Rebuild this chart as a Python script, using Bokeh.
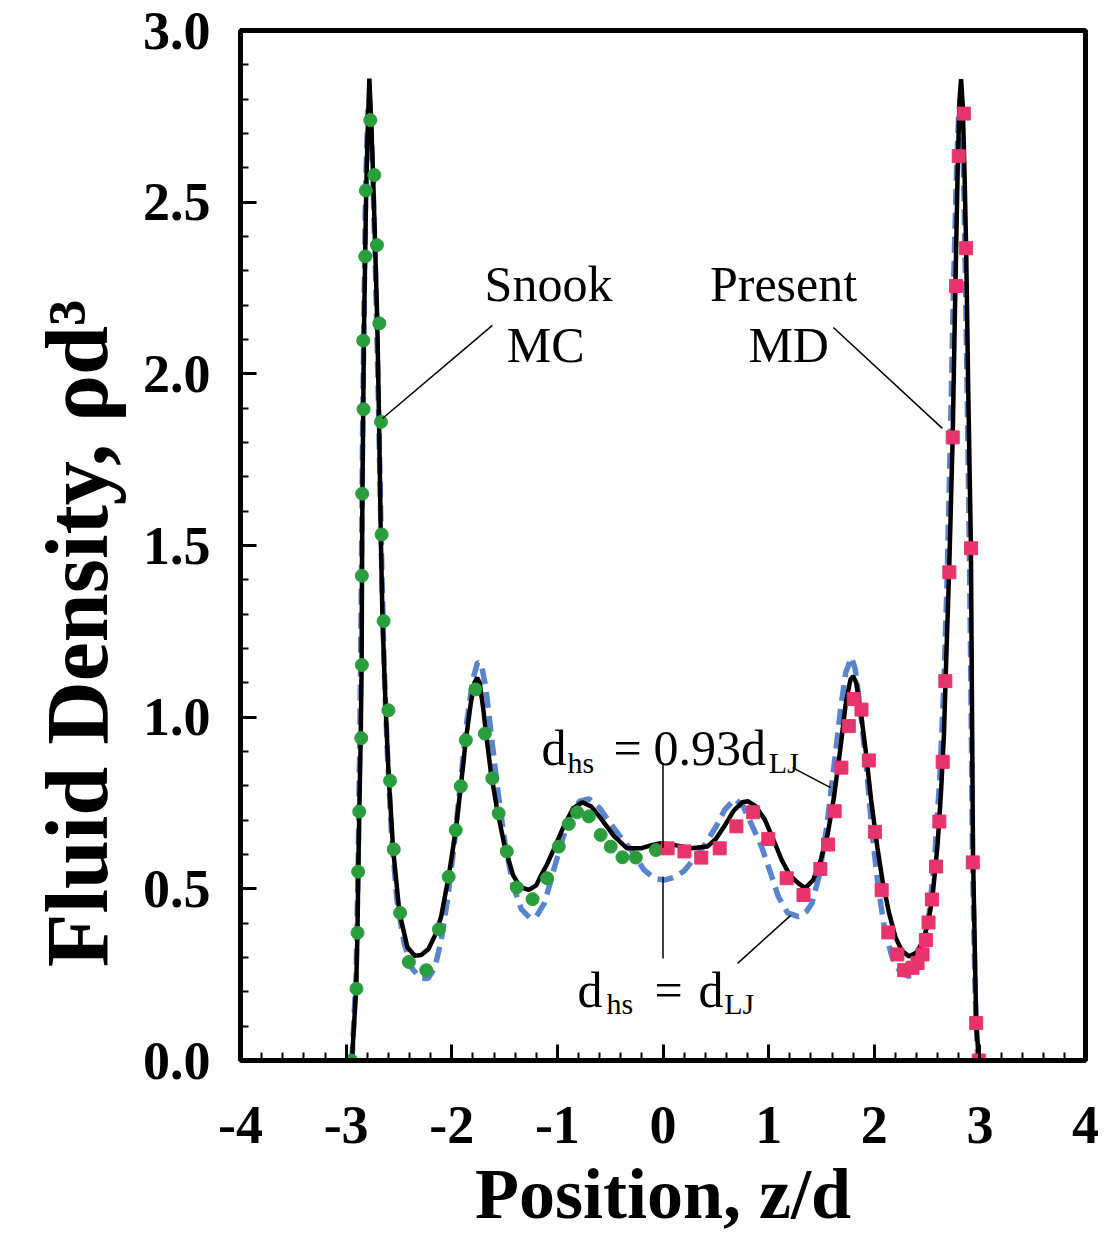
import math
from bokeh.plotting import figure
from bokeh.models import Range1d, FixedTicker, Label
from bokeh.embed import file_html
from bokeh.resources import INLINE

# ---------------- data ----------------
# d_hs = 0.93 d_LJ (solid black)
solid_x = [-2.945, -2.905, -2.893, -2.885, -2.875, -2.862, -2.853, -2.850, -2.846, -2.838,
           -2.832, -2.820, -2.810, -2.795, -2.780, -2.765, -2.745, -2.725, -2.705, -2.688,
           -2.672, -2.655, -2.625, -2.595, -2.555, -2.495, -2.420, -2.350, -2.290, -2.220,
           -2.150, -2.100, -2.030, -1.962, -1.914, -1.867, -1.820, -1.785, -1.760, -1.735,
           -1.700, -1.680, -1.630, -1.570, -1.500, -1.420, -1.350, -1.270, -1.200, -1.160,
           -1.100, -1.035, -0.940, -0.850, -0.765, -0.680, -0.590, -0.460, -0.340, -0.210,
           -0.100, -0.020, 0.100, 0.270, 0.420, 0.500, 0.580, 0.670, 0.750, 0.806,
           0.880, 0.965, 1.050, 1.124, 1.200, 1.283, 1.346, 1.420, 1.490, 1.560,
           1.620, 1.680, 1.730, 1.775, 1.800, 1.830, 1.870, 1.920, 1.970, 2.030,
           2.080, 2.140, 2.200, 2.260, 2.330, 2.400, 2.457, 2.510, 2.552, 2.600,
           2.632, 2.660, 2.679, 2.711, 2.743, 2.765, 2.790, 2.808, 2.822, 2.838,
           2.855, 2.870, 2.890, 2.915, 2.935, 2.965, 2.990]
solid_y = [0.000, 0.210, 0.370, 0.550, 0.730, 0.940, 1.150, 1.410, 1.650, 1.900,
           2.100, 2.340, 2.530, 2.720, 2.860, 2.750, 2.580, 2.370, 2.150, 1.860,
           1.530, 1.280, 1.020, 0.815, 0.615, 0.430, 0.330, 0.305, 0.307, 0.325,
           0.370, 0.420, 0.535, 0.671, 0.799, 0.933, 1.040, 1.100, 1.115, 1.100,
           1.020, 0.965, 0.840, 0.730, 0.625, 0.540, 0.505, 0.497, 0.510, 0.536,
           0.570, 0.614, 0.682, 0.735, 0.752, 0.740, 0.706, 0.652, 0.618, 0.618,
           0.628, 0.633, 0.628, 0.618, 0.623, 0.645, 0.682, 0.728, 0.752, 0.755,
           0.740, 0.701, 0.640, 0.584, 0.540, 0.516, 0.502, 0.525, 0.580, 0.660,
           0.770, 0.910, 1.040, 1.110, 1.119, 1.100, 1.020, 0.900, 0.760, 0.620,
           0.520, 0.430, 0.360, 0.320, 0.303, 0.315, 0.345, 0.400, 0.478, 0.630,
           0.781, 0.950, 1.144, 1.446, 1.821, 2.200, 2.600, 2.800, 2.858, 2.780,
           2.580, 2.366, 1.950, 1.500, 0.600, 0.110, 0.000]

# d_hs = d_LJ (blue dashed)
dash_x = [-2.945, -2.905, -2.885, -2.868, -2.855, -2.845, -2.830, -2.815, -2.795, -2.780,
          -2.765, -2.745, -2.722, -2.700, -2.680, -2.660, -2.640, -2.610, -2.570, -2.520,
          -2.450, -2.380, -2.300, -2.225, -2.160, -2.100, -2.040, -1.980, -1.920, -1.860,
          -1.800, -1.755, -1.720, -1.680, -1.630, -1.570, -1.500, -1.420, -1.340, -1.260,
          -1.200, -1.120, -1.035, -0.950, -0.880, -0.790, -0.700, -0.600, -0.500, -0.400,
          -0.300, -0.180, -0.080, 0.020, 0.120, 0.200, 0.300, 0.400, 0.500, 0.584,
          0.680, 0.760, 0.850, 0.933, 1.020, 1.092, 1.180, 1.283, 1.360, 1.410,
          1.480, 1.550, 1.620, 1.680, 1.730, 1.784, 1.820, 1.870, 1.930, 1.981,
          2.040, 2.100, 2.170, 2.250, 2.330, 2.400, 2.460, 2.520, 2.570, 2.620,
          2.660, 2.690, 2.720, 2.750, 2.780, 2.800, 2.815, 2.830, 2.848, 2.865,
          2.882, 2.900, 2.915, 2.930, 2.955, 2.980]
dash_y = [0.000, 0.250, 0.600, 1.000, 1.400, 1.800, 2.200, 2.550, 2.760, 2.800,
          2.740, 2.550, 2.300, 2.000, 1.700, 1.400, 1.150, 0.900, 0.660, 0.470,
          0.340, 0.270, 0.240, 0.239, 0.270, 0.350, 0.470, 0.620, 0.800, 0.980,
          1.110, 1.160, 1.155, 1.090, 0.960, 0.800, 0.640, 0.510, 0.440, 0.415,
          0.419, 0.460, 0.555, 0.645, 0.710, 0.755, 0.762, 0.735, 0.692, 0.650,
          0.613, 0.555, 0.530, 0.526, 0.535, 0.552, 0.590, 0.630, 0.680, 0.730,
          0.762, 0.740, 0.680, 0.623, 0.545, 0.477, 0.430, 0.419, 0.435, 0.458,
          0.540, 0.680, 0.860, 1.020, 1.130, 1.174, 1.140, 1.020, 0.840, 0.660,
          0.500, 0.380, 0.300, 0.255, 0.245, 0.265, 0.320, 0.430, 0.580, 0.820,
          1.100, 1.400, 1.800, 2.250, 2.600, 2.760, 2.800, 2.760, 2.550, 2.250,
          1.900, 1.500, 1.100, 0.600, 0.200, 0.000]

# Snook MC (green circles)
mc_x = [-2.952, -2.902, -2.892, -2.886, -2.876, -2.857, -2.851, -2.851, -2.848, -2.835,
        -2.838, -2.819, -2.813, -2.771, -2.733, -2.708, -2.686, -2.670, -2.664, -2.645,
        -2.600, -2.584, -2.549, -2.489, -2.406, -2.241, -2.121, -2.029, -1.962, -1.914,
        -1.867, -1.775, -1.686, -1.616, -1.556, -1.479, -1.384, -1.235, -1.098, -0.987,
        -0.892, -0.813, -0.702, -0.590, -0.495, -0.384, -0.257, -0.067]
mc_y = [0.000, 0.209, 0.372, 0.550, 0.725, 0.939, 1.152, 1.412, 1.651, 1.897,
        2.097, 2.342, 2.534, 2.739, 2.579, 2.375, 2.147, 1.860, 1.532, 1.280,
        1.020, 0.815, 0.615, 0.430, 0.287, 0.263, 0.382, 0.535, 0.671, 0.799,
        0.933, 1.081, 0.952, 0.822, 0.720, 0.609, 0.504, 0.470, 0.531, 0.623,
        0.689, 0.723, 0.711, 0.657, 0.623, 0.592, 0.591, 0.613]

# Present MD (pink squares)
md_x = [0.044, 0.203, 0.362, 0.537, 0.695, 0.854, 0.997, 1.171, 1.330, 1.490,
        1.562, 1.625, 1.689, 1.759, 1.806, 1.879, 1.949, 2.006, 2.070, 2.133,
        2.219, 2.283, 2.362, 2.410, 2.457, 2.489, 2.514, 2.546, 2.585, 2.616,
        2.648, 2.673, 2.711, 2.743, 2.775, 2.800, 2.848, 2.870, 2.917, 2.933,
        2.965, 2.990]
md_y = [0.618, 0.609, 0.591, 0.618, 0.682, 0.723, 0.645, 0.531, 0.482, 0.558,
        0.629, 0.726, 0.853, 0.974, 1.053, 1.022, 0.874, 0.666, 0.496, 0.373,
        0.309, 0.263, 0.270, 0.284, 0.309, 0.351, 0.402, 0.469, 0.565, 0.696,
        0.870, 1.105, 1.422, 1.815, 2.256, 2.634, 2.758, 2.366, 1.492, 0.577,
        0.109, 0.000]

x_ticks = [-4, -3, -2, -1, 0, 1, 2, 3, 4]
x_tick_labels = ["-4", "-3", "-2", "-1", "0", "1", "2", "3", "4"]
y_ticks = [0.0, 0.5, 1.0, 1.5, 2.0, 2.5, 3.0]
y_tick_labels = ["0.0", "0.5", "1.0", "1.5", "2.0", "2.5", "3.0"]

x_title = "Position, z/d"
y_title = "Fluid Density, \u03c1d\u00b3"

# ---------------- figure ----------------
SERIF = "Liberation Serif"

p = figure(frame_width=845, frame_height=1030,
           x_range=Range1d(-4, 4), y_range=Range1d(0, 3),
           output_backend="svg", toolbar_location=None,
           min_border_left=240, min_border_right=20,
           min_border_top=30, min_border_bottom=177,
           background_fill_color="white", border_fill_color="white")

p.grid.visible = False
p.outline_line_color = "black"
p.outline_line_width = 5
p.outline_line_alpha = 1.0

x_minor = [round(-4 + 0.2 * i, 2) for i in range(41)]
y_minor = [round(0.1 * i, 2) for i in range(31)]
p.xaxis.ticker = FixedTicker(ticks=x_ticks, minor_ticks=x_minor)
p.yaxis.ticker = FixedTicker(ticks=y_ticks, minor_ticks=y_minor)
p.xaxis.major_label_overrides = {t: s for t, s in zip(x_ticks, x_tick_labels)}
p.yaxis.major_label_overrides = {t: s for t, s in zip(y_ticks, y_tick_labels)}

for ax in (p.xaxis[0], p.yaxis[0]):
    ax.axis_line_width = 5
    ax.axis_line_color = "black"
    ax.major_tick_in = 16
    ax.major_tick_out = 0
    ax.minor_tick_in = 8
    ax.minor_tick_out = 0
    ax.major_tick_line_width = 3
    ax.minor_tick_line_width = 2
    ax.major_tick_line_color = "black"
    ax.minor_tick_line_color = "black"
    ax.major_label_text_font = SERIF
    ax.major_label_text_font_style = "bold"
    ax.major_label_text_font_size = "54px"
    ax.major_label_text_color = "black"
    ax.axis_label_text_font = SERIF
    ax.axis_label_text_font_style = "bold"
    ax.axis_label_text_color = "black"
p.xaxis.major_label_standoff = 46
p.yaxis.major_label_standoff = 30

p.xaxis.axis_label = x_title
p.xaxis.axis_label_text_font_size = "72px"
p.xaxis.axis_label_standoff = 8
# trailing no-break spaces move the rotated title down toward where the reference has it
p.yaxis.axis_label = y_title + "\u00a0" * 8
p.yaxis.axis_label_text_font_size = "88px"
p.yaxis.axis_label_standoff = 14

# curves
p.line(dash_x, dash_y, line_color="#5a84cc", line_width=5.5, line_dash="16 8")
p.line(solid_x, solid_y, line_color="black", line_width=4.5)
p.scatter(mc_x, mc_y, marker="circle", size=13, fill_color="#2a9d3c", line_color="#2a9d3c")
p.scatter(md_x, md_y, marker="square", size=13, fill_color="#e8346c", line_color="#e8346c")

# leader lines
p.line([-1.615, -2.656], [2.141, 1.870], line_color="black", line_width=1.5)
p.line([1.613, 2.645], [2.135, 1.841], line_color="black", line_width=1.5)
p.line([0, 0], [0.865, 0.620], line_color="black", line_width=1.5)
p.line([0, 0], [0.535, 0.297], line_color="black", line_width=1.5)
p.line([1.226, 1.586], [0.853, 0.795], line_color="black", line_width=1.5)
p.line([0.706, 1.207], [0.283, 0.422], line_color="black", line_width=1.5)


def lab(x, y, text, size, align="left", baseline="alphabetic", style="normal",
        font=SERIF, angle=0.0):
    p.add_layout(Label(x=x, y=y, text=text, text_font=font, text_font_size=size,
                       text_font_style=style, text_align=align, text_baseline=baseline,
                       text_color="black", angle=angle))


lab(-1.084, 2.263, "Snook", "50px", align="center")
lab(-1.110, 2.083, "MC", "50px", align="center")
lab(1.141, 2.263, "Present", "50px", align="center")
lab(1.190, 2.083, "MD", "50px", align="center")

# d_hs = 0.93 d_LJ
lab(-1.151, 0.909, "d", "50px")
lab(-0.905, 0.868, "hs", "30px")
lab(-0.469, 0.909, "=", "50px")
lab(-0.090, 0.909, "0.93d", "50px")
lab(1.000, 0.868, "LJ", "30px")

# d_hs = d_LJ
lab(-0.810, 0.204, "d", "50px")
lab(-0.535, 0.166, "hs", "30px")
lab(-0.080, 0.204, "=", "50px")
lab(0.336, 0.204, "d", "50px")
lab(0.580, 0.166, "LJ", "30px")

open("out.html", "w").write(file_html(p, INLINE))
